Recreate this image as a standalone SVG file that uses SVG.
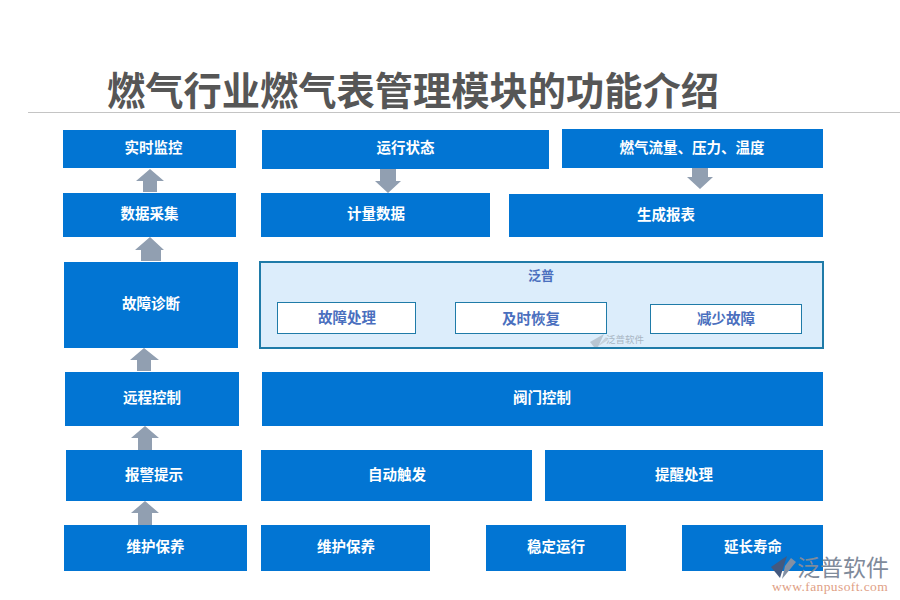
<svg xmlns="http://www.w3.org/2000/svg" width="900" height="600" viewBox="0 0 900 600">
<defs>
<style>
text{font-family:"Noto Sans CJK SC","Liberation Sans",sans-serif;text-anchor:middle}
.b{fill:#0275d3}
.l{fill:#fff;font-size:14.500px;font-weight:700}
.a{fill:#919fb1}
.s{fill:#fff;stroke:#1f7ba8;stroke-width:1}
.p{fill:#4a6fbe;font-size:14.500px;font-weight:700}
</style>
</defs>
<rect width="900" height="600" fill="#fff"/>
<g id="title">
<text x="413" y="105" style="font-size:38.250px;font-weight:700;fill:#565656">燃气行业燃气表管理模块的功能介绍</text>
<rect x="28" y="112" width="872" height="1" fill="#c4c4c4"/>
</g>
<g id="connectors">
<polygon class="a" points="150,169 164,181 157,181 157,192 143,192 143,181 136,181"/>
<polygon class="a" points="150,237 164,250 161,250 161,261 141,261 141,250 135,250"/>
<polygon class="a" points="144,348 159,360 151,360 151,371 137,371 137,360 130,360"/>
<polygon class="a" points="145,426 159,438 152,438 152,450 138,450 138,438 131,438"/>
<polygon class="a" points="145,501 159,513 152,513 152,525 138,525 138,513 131,513"/>
<polygon class="a" points="388,193 401,181 396,181 396,169 380,169 380,181 375,181"/>
<polygon class="a" points="700,189 713,177 708,177 708,166 692,166 692,177 687,177"/>
</g>
<g id="n1"><rect class="b" x="63" y="130" width="173" height="38"/><text class="l" x="153.500" y="153">实时监控</text></g>
<g id="n2"><rect class="b" x="262" y="130" width="287" height="39"/><text class="l" x="405.500" y="153">运行状态</text></g>
<g id="n3"><rect class="b" x="562" y="129" width="261" height="39"/><text class="l" x="692" y="153">燃气流量、压力、温度</text></g>
<g id="n4"><rect class="b" x="63" y="193" width="173" height="44"/><text class="l" x="149.500" y="219">数据采集</text></g>
<g id="n5"><rect class="b" x="261" y="193" width="229" height="44"/><text class="l" x="376" y="219">计量数据</text></g>
<g id="n6"><rect class="b" x="509" y="194" width="314" height="43"/><text class="l" x="666" y="220">生成报表</text></g>
<g id="n7"><rect class="b" x="64" y="262" width="174" height="86"/><text class="l" x="151" y="309">故障诊断</text></g>
<g id="n8">
<rect x="260" y="262" width="563" height="86" fill="#dcedfb" stroke="#1f7ba8" stroke-width="2"/>
<text class="p" x="541" y="280" style="font-size:13px">泛普</text>
<rect class="s" x="277.500" y="302.500" width="138" height="31"/><text class="p" x="347" y="323">故障处理</text>
<rect class="s" x="455.500" y="302.500" width="151" height="31"/><text class="p" x="531" y="324">及时恢复</text>
<rect class="s" x="650.500" y="304.500" width="151" height="29"/><text class="p" x="726" y="324">减少故障</text>
</g>
<g id="n9"><rect class="b" x="65" y="372" width="174" height="54"/><text class="l" x="152" y="403">远程控制</text></g>
<g id="n10"><rect class="b" x="262" y="372" width="561" height="54"/><text class="l" x="542" y="403">阀门控制</text></g>
<g id="n11"><rect class="b" x="66" y="450" width="176" height="51"/><text class="l" x="154" y="480">报警提示</text></g>
<g id="n12"><rect class="b" x="261" y="450" width="271" height="51"/><text class="l" x="397" y="480">自动触发</text></g>
<g id="n13"><rect class="b" x="545" y="450" width="278" height="51"/><text class="l" x="684" y="480">提醒处理</text></g>
<g id="n14"><rect class="b" x="64" y="525" width="183" height="46"/><text class="l" x="155.500" y="552">维护保养</text></g>
<g id="n15"><rect class="b" x="261" y="525" width="169" height="46"/><text class="l" x="346" y="552">维护保养</text></g>
<g id="n16"><rect class="b" x="486" y="525" width="140" height="46"/><text class="l" x="556" y="552">稳定运行</text></g>
<g id="n17"><rect class="b" x="682" y="525" width="141" height="46"/><text class="l" x="753" y="552">延长寿命</text></g>
<g id="watermarks">
<path d="M604 334 L590 342 L594 347 L598 347 Z" fill="#b9c6d2"/>
<path d="M606 337 L608 340 L597 347 Z" fill="#c7d2dc"/>
<text x="625" y="343" style="font-size:9.500px;fill:#a9b6c3">泛普软件</text>
<path d="M787 556 L771 567 L780 578 Z" fill="#44597f"/>
<path d="M791 558 L796 562 L782 579 L785 566 Z" fill="#8390a4"/>
<text x="843" y="576" style="font-size:23px;fill:#7f8b9b">泛普软件</text>
<text x="830" y="591" style="font-size:13.500px;fill:#df9f86;font-family:'Liberation Serif',serif;letter-spacing:.4px">www.fanpusoft.com</text>
</g>
</svg>
